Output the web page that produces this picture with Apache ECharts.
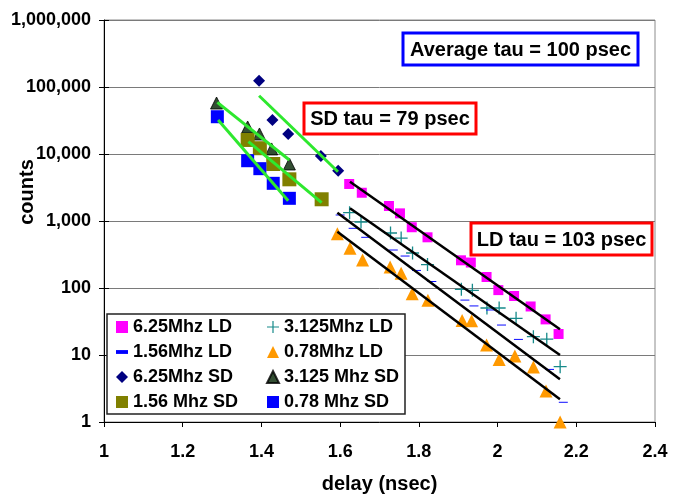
<!DOCTYPE html>
<html>
<head>
<meta charset="utf-8">
<script src="https://cdn.jsdelivr.net/npm/echarts@6/dist/echarts.min.js"></script>
<style>html,body{margin:0;padding:0;background:#fff}#c{width:675px;height:495px}</style>
</head>
<body>
<div id="c"></div>
<script>
// ---- data (delay in nsec, counts) ----
var ld625_x = [1.623, 1.655, 1.724, 1.752, 1.782, 1.822, 1.907, 1.932, 1.972, 2.002, 2.042, 2.084, 2.122, 2.155];
var ld625_y = [3570, 2640, 1675, 1300, 807, 571, 259, 240, 146, 93, 76, 53, 34, 20.6];
var ld3125_x = [1.624, 1.653, 1.728, 1.755, 1.784, 1.822, 1.908, 1.936, 1.973, 2.004, 2.047, 2.091, 2.125, 2.159];
var ld3125_y = [1330, 966, 662, 557, 333, 224, 95.7, 92.4, 50.3, 50.3, 35.3, 18.8, 17.2, 6.7];
var ld156_x = [1.600, 1.633, 1.665, 1.735, 1.765, 1.794, 1.833, 1.917, 1.940, 1.982, 2.010, 2.053, 2.132, 2.167];
var ld156_y = [1230, 778, 571, 369, 300, 183, 125, 66, 54, 47, 28, 17.1, 6.1, 1.97];
var ld078_x = [1.593, 1.625, 1.657, 1.727, 1.755, 1.783, 1.823, 1.910, 1.934, 1.972, 2.004, 2.044, 2.091, 2.123, 2.159];
var ld078_y = [646, 391, 262, 206, 166, 82, 65.5, 32.7, 32.5, 14.1, 8.6, 9.7, 6.6, 2.9, 1];
var sd625_x = [1.394, 1.428, 1.468, 1.551, 1.595];
var sd625_y = [124000, 32200, 19900, 9330, 5630];
var sd3125_x = [1.286, 1.365, 1.395, 1.426, 1.471];
var sd3125_y = [57700, 25300, 19900, 11900, 7090];
var sd156_x = [1.365, 1.396, 1.430, 1.471, 1.553];
var sd156_y = [16200, 12200, 7090, 4190, 2110];
var sd078_x = [1.288, 1.365, 1.396, 1.430, 1.471];
var sd078_y = [36000, 7940, 6040, 3650, 2180];

// fitted trend lines (end points)
var fit_ld625_x = [1.625, 2.1585], fit_ld625_y = [3860, 24.2];
var fit_ld3125_x = [1.625, 2.1585], fit_ld3125_y = [1548, 10.0];
var fit_ld156_x = [1.593, 2.1585], fit_ld156_y = [1330, 4.34];
var fit_ld078_x = [1.593, 2.1585], fit_ld078_y = [692, 2.18];
var fit_sd625_x = [1.394, 1.5945], fit_sd625_y = [74100, 5440];
var fit_sd3125_x = [1.288, 1.471], fit_sd3125_y = [59100, 8130];
var fit_sd156_x = [1.367, 1.553], fit_sd156_y = [15270, 1876];
var fit_sd078_x = [1.290, 1.468], fit_sd078_y = [32200, 2010];

var xTicks = [1, 1.2, 1.4, 1.6, 1.8, 2, 2.2, 2.4];
var yMin = 1, yMax = 1000000;

var names = ['6.25Mhz LD', '3.125Mhz LD', '1.56Mhz LD', '0.78Mhz LD',
             '6.25Mhz SD', '3.125 Mhz SD', '1.56 Mhz SD', '0.78 Mhz SD'];
var annotations = ['Average tau = 100 psec', 'SD tau = 79 psec', 'LD tau = 103 psec'];

function zip(xs, ys) { return xs.map(function (x, i) { return [x, ys[i]]; }); }

var FONT = '"Liberation Sans", Arial, sans-serif';
var plusPath = 'path://M4.5,0h1v4.5h4.5v1h-4.5v4.5h-1v-4.5h-4.5v-1h4.5z';
var dashPath = 'path://M0,0h10v3.2h-10z';

function scatter(name, xs, ys, symbol, size, color, extra) {
  var s = {
    name: name, type: 'scatter', data: zip(xs, ys), symbol: symbol, symbolSize: size,
    itemStyle: { color: color, opacity: 1 }, z: 3, silent: true
  };
  if (extra) for (var k in extra) s[k] = extra[k];
  return s;
}
function fit(xs, ys, color, width) {
  return {
    type: 'line', data: zip(xs, ys), showSymbol: false, symbol: 'none', silent: true,
    lineStyle: { color: color, width: width }, z: 5
  };
}

var green = '#2ee82e';
var series = [
  scatter(names[0], ld625_x, ld625_y, 'rect', 10, '#ff00ff'),
  scatter(names[1], ld3125_x, ld3125_y, plusPath, 13, '#168a8a'),
  scatter(names[2], ld156_x, ld156_y, dashPath, [9, 3], '#0000ff', { symbolKeepAspect: true }),
  scatter(names[3], ld078_x, ld078_y, 'triangle', 13, '#ff9900'),
  scatter(names[4], sd625_x, sd625_y, 'diamond', 12, '#000080'),
  scatter(names[5], sd3125_x, sd3125_y, 'triangle', 12, '#002200', { itemStyle: { color: '#002200', borderColor: '#000', borderWidth: 1 } }),
  scatter(names[6], sd156_x, sd156_y, 'rect', 14, '#808000'),
  scatter(names[7], sd078_x, sd078_y, 'rect', 13, '#0000ff'),
  fit(fit_ld625_x, fit_ld625_y, '#000', 2.5),
  fit(fit_ld3125_x, fit_ld3125_y, '#000', 2.5),
  fit(fit_ld156_x, fit_ld156_y, '#000', 2.5),
  fit(fit_ld078_x, fit_ld078_y, '#000', 2.5),
  fit(fit_sd625_x, fit_sd625_y, green, 3),
  fit(fit_sd3125_x, fit_sd3125_y, green, 3),
  fit(fit_sd156_x, fit_sd156_y, green, 3),
  fit(fit_sd078_x, fit_sd078_y, green, 3)
];

var legendCommon = {
  orient: 'vertical', top: 318, padding: 0, itemGap: 7, itemWidth: 12, itemHeight: 12,
  selectedMode: false, z: 6,
  textStyle: { fontFamily: FONT, fontWeight: 'bold', fontSize: 18, lineHeight: 17, color: '#000' }
};
function legendAt(left, data) {
  var l = {}; for (var k in legendCommon) l[k] = legendCommon[k];
  l.left = left; l.data = data; return l;
}

function box(x, y, w, h, stroke, text) {
  return [
    { type: 'rect', shape: { x: x, y: y, width: w, height: h }, z: 20,
      style: { fill: '#fff', stroke: stroke, lineWidth: 3 } },
    { type: 'text', x: x + w / 2, y: y + h / 2 + 1, z: 21,
      style: { text: text, fill: '#000', font: 'bold 20px ' + FONT,
               textAlign: 'center', textVerticalAlign: 'middle', align: 'center', verticalAlign: 'middle' } }
  ];
}

var chart = echarts.init(document.getElementById('c'), null, { renderer: 'canvas' });
chart.setOption({
  animation: false,
  backgroundColor: '#fff',
  grid: { left: 104, top: 20, right: 20, bottom: 73, show: true, borderColor: '#8c8c8c', borderWidth: 1,
          backgroundColor: 'transparent', containLabel: false, outerBoundsMode: 'none' },
  xAxis: {
    type: 'value', min: xTicks[0], max: xTicks[xTicks.length - 1], interval: 0.2,
    name: 'delay (nsec)', nameLocation: 'middle', nameGap: 52,
    nameTextStyle: { fontFamily: FONT, fontWeight: 'bold', fontSize: 20, color: '#000' },
    axisLine: { lineStyle: { color: '#000', width: 1 } },
    axisTick: { show: true, length: 5, lineStyle: { color: '#000' } },
    axisLabel: { margin: 21, fontFamily: FONT, fontWeight: 'bold', fontSize: 18, color: '#000',
                 formatter: function (v) { return String(Math.round(v * 10) / 10); } },
    splitLine: { show: false }
  },
  yAxis: [{
    type: 'log', logBase: 10, min: yMin, max: yMax, splitNumber: 6,
    axisLine: { show: true, lineStyle: { color: '#000', width: 1 } },
    axisTick: { show: true, length: 5, lineStyle: { color: '#000' } },
    axisLabel: { margin: 13, fontFamily: FONT, fontWeight: 'bold', fontSize: 18, color: '#000',
                 formatter: function (v) { return Math.round(v).toLocaleString('en-US'); } },
    splitLine: { show: true, lineStyle: { color: '#7a7a7a', width: 1 } },
    minorTick: { show: false }
  }, {
    type: 'log', logBase: 10, min: yMin, max: yMax, splitNumber: 6, position: 'left',
    axisLine: { show: false },
    axisTick: { show: true, inside: true, length: 5, lineStyle: { color: '#000' } },
    axisLabel: { show: false },
    splitLine: { show: false }
  }],
  legend: [
    legendAt(116, [names[0], names[2], names[4], names[6]]),
    legendAt(266, [names[1], names[3], names[5], names[7]])
  ],
  graphic: [
    { type: 'rect', shape: { x: 107, y: 314, width: 298, height: 100 }, z: 4,
      style: { fill: '#fff', stroke: '#222', lineWidth: 1.5 } },
    { type: 'text', x: 27, y: 192, rotation: Math.PI / 2, z: 10,
      style: { text: 'counts', fill: '#000', font: 'bold 20px ' + FONT,
               textAlign: 'center', textVerticalAlign: 'middle', align: 'center', verticalAlign: 'middle' } }
  ].concat(box(403, 33, 235, 32, '#0000ff', annotations[0]))
   .concat(box(304, 103, 172, 31, '#ff0000', annotations[1]))
   .concat(box(471, 223, 181, 32, '#ff0000', annotations[2])),
  series: series
});
</script>
</body>
</html>
